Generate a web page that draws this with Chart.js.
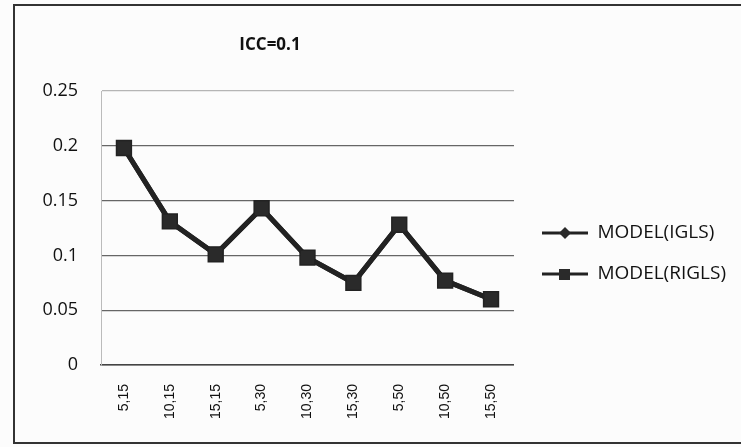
<!DOCTYPE html>
<html>
<head>
<meta charset="utf-8">
<script src="https://cdn.jsdelivr.net/npm/chart.js@4/dist/chart.umd.min.js"></script>
<style>
  html, body { margin: 0; padding: 0; background: #fcfcfc; }
  #wrap { width: 741px; height: 447px; position: relative; }
</style>
</head>
<body>
<div id="wrap"><canvas id="c" width="741" height="447"></canvas></div>
<script>
// ---- data ----
const categories = ["5,15", "10,15", "15,15", "5,30", "10,30", "15,30", "5,50", "10,50", "15,50"];
const seriesNames = ["MODEL(IGLS)", "MODEL(RIGLS)"];
const igls  = [0.198, 0.131, 0.101, 0.143, 0.098, 0.075, 0.128, 0.077, 0.060];
const rigls = [0.198, 0.131, 0.101, 0.143, 0.098, 0.075, 0.128, 0.077, 0.060];
const yTicks = [0, 0.05, 0.1, 0.15, 0.2, 0.25];
const chartTitle = "ICC=0.1";

// ---- legend symbols (line + marker) ----
function legendSymbol(kind) {
  const c = document.createElement('canvas');
  c.width = 57; c.height = 16;
  const g = c.getContext('2d');
  g.strokeStyle = '#222'; g.lineWidth = 3;
  g.beginPath(); g.moveTo(11, 8); g.lineTo(57, 8); g.stroke();
  g.fillStyle = '#2a2a2a';
  if (kind === 'diamond') {
    g.beginPath(); g.moveTo(34, 2); g.lineTo(40, 8); g.lineTo(34, 14); g.lineTo(28, 8); g.closePath(); g.fill();
  } else {
    g.fillRect(28, 3, 11, 11);
  }
  return c;
}
const legendImgs = [legendSymbol('diamond'), legendSymbol('square')];

const bgPlugin = {
  id: 'bg',
  beforeDraw(chart) {
    const ctx = chart.ctx;
    ctx.save();
    ctx.fillStyle = '#fcfcfc';
    ctx.fillRect(0, 0, chart.width, chart.height);
    ctx.strokeStyle = '#333';
    ctx.lineWidth = 2;
    ctx.beginPath();
    ctx.moveTo(741, 5); ctx.lineTo(14, 5); ctx.lineTo(14, 443); ctx.lineTo(741, 443);
    ctx.stroke();
    ctx.restore();
  }
};

const placePlugin = {
  id: 'place',
  afterLayout(chart) {
    const t = chart.titleBlock;
    if (t) { t.left = 200; t.right = 340; }
    const l = chart.legend;
    if (l) { l.top += 30; l.bottom += 30; l.left -= 5; l.right -= 5; }
  }
};

Chart.defaults.font.family = "'Open Sans', sans-serif";
Chart.defaults.color = '#111';

new Chart(document.getElementById('c'), {
  type: 'line',
  data: {
    labels: categories,
    datasets: [
      {
        label: seriesNames[0], data: igls, order: 2,
        borderColor: '#222', backgroundColor: '#2a2a2a', borderWidth: 5,
        pointStyle: 'rectRot', pointRadius: 6, pointBorderWidth: 1, tension: 0
      },
      {
        label: seriesNames[1], data: rigls, order: 1,
        borderColor: '#222', backgroundColor: '#2a2a2a', borderWidth: 5,
        pointStyle: 'rect', pointRadius: 10.5, pointBorderWidth: 1.5, tension: 0
      }
    ]
  },
  options: {
    responsive: false,
    animation: false,
    layout: { padding: { left: 0, right: 0, top: 0, bottom: 0 } },
    plugins: {
      title: {
        display: true, text: chartTitle, color: '#111',
        font: { size: 17, weight: 'bold' },
        padding: { top: 35, bottom: 35.6 }
      },
      legend: {
        position: 'right',
        maxWidth: 231,
        labels: {
          usePointStyle: true,
          pointStyleWidth: 57,
          padding: 22,
          color: '#111',
          font: { size: 19 },
          sort: (a, b) => a.datasetIndex - b.datasetIndex,
          generateLabels(chart) {
            const items = Chart.defaults.plugins.legend.labels.generateLabels(chart);
            items.forEach(it => { it.pointStyle = legendImgs[it.datasetIndex]; });
            return items;
          }
        }
      },
      tooltip: { enabled: false }
    },
    scales: {
      x: {
        offset: true,
        grid: { display: false, drawTicks: false },
        border: { display: true, color: '#444', width: 1.5 },
        ticks: {
          minRotation: 90, maxRotation: 90, padding: 19, color: '#111',
          font: { family: "'Liberation Sans', Arial, sans-serif", size: 14 }
        },
        afterFit(scale) { scale.height = 82; }
      },
      y: {
        min: 0, max: 0.25,
        afterBuildTicks(scale) { scale.ticks = yTicks.map(v => ({ value: v })); },
        grid: {
          drawTicks: false,
          color: (ctx) => {
            const v = ctx.tick && ctx.tick.value;
            if (v === 0.25) return '#b5b5b5';
            if (v === 0) return '#444';
            return '#666';
          },
          lineWidth: 1.3
        },
        border: { display: true, color: '#bbb', width: 1 },
        ticks: {
          padding: 23, color: '#111',
          font: { size: 18 },
          callback: (v) => String(Math.round(v * 100) / 100)
        },
        afterFit(scale) { scale.width = 101; }
      }
    }
  },
  plugins: [bgPlugin, placePlugin]
});
</script>
</body>
</html>
